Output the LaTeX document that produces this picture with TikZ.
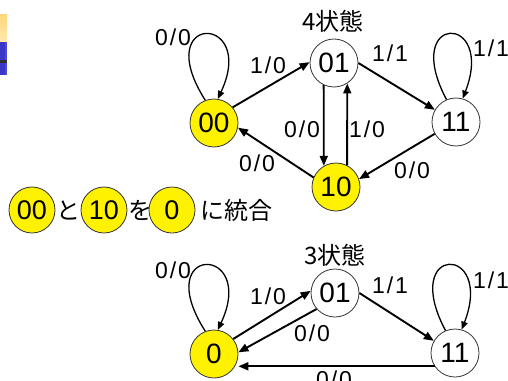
\documentclass[tikz,border=0pt]{standalone}
\usepackage{fontspec}
\setmainfont{Liberation Sans}
\newfontfamily\cjk{Noto Sans CJK JP}
\usetikzlibrary{arrows.meta}
\definecolor{imgtop}{HTML}{FFD67A}
\definecolor{imgbot}{HTML}{FFE9B0}
\definecolor{imgblue}{HTML}{3B35C8}
\definecolor{imgblue2}{HTML}{4C4AD2}
\definecolor{imgdark}{HTML}{303030}
\newcommand\slab[2]{#1\kern2pt/\kern2pt#2}
\begin{document}
\begin{tikzpicture}[x=1pt,y=-1pt,
  st/.style={circle,draw=black!80,line width=0.8pt,minimum size=48pt,inner sep=0pt,font=\fontsize{28}{28}\selectfont},
  yst/.style={st,fill=yellow},
  mst/.style={circle,draw=black!80,line width=0.8pt,fill=yellow,minimum size=46pt,inner sep=0pt,font=\fontsize{27}{27}\selectfont},
  arr/.style={line width=1.9pt,-{Triangle[length=10pt,width=8pt]}},
  lp/.style={line width=1.3pt,-{Triangle[length=8pt,width=6.5pt]}},
  lbl/.style={font=\fontsize{23}{23}\selectfont,inner sep=0pt},
  ttl/.style={font=\cjk\fontsize{24}{24}\selectfont,inner sep=0pt},
  jt/.style={font=\cjk\fontsize{24}{24}\selectfont,inner sep=0pt}
]
\useasboundingbox (0,0) rectangle (508,380);
% partial picture at top left
\shade[top color=imgtop,bottom color=imgbot] (0,14) rectangle (7,42);
\fill[imgblue] (0,42) rectangle (7,75);
\fill[imgblue2] (5,42) rectangle (7,75);
\fill[imgdark] (0,60) rectangle (7,63);

% ---- 4 states ----
\node[ttl] (t4) at (333,21) {4状態};
\node[yst] (a00) at (214,123) {00};
\node[st]  (a01) at (334,63) {01};
\node[st]  (a11) at (456,122) {11};
\node[yst] (a10) at (336,187) {10};

\draw[lp] (a00.111) .. controls +(-56,-88) and +(40,-86) .. (a00.81);
\draw[lp] (a11.113) .. controls +(-46,-87) and +(33,-86) .. (a11.74);
\draw[arr] (a00.40) -- (a01.178);
\draw[arr] (a01.0) -- (a11.150);
\draw[arr] (a01.245) -- (a10.120);
\draw[arr] (a10.63) -- (a01.303);
\draw[arr] (a11.209) -- (a10.19);
\draw[arr] (a10.157) -- (a00.-11);

\node[lbl] (l1) at (173,37) {\slab00};
\node[lbl] (l2) at (268,65) {\slab10};
\node[lbl] (l3) at (390,53) {\slab11};
\node[lbl] (l4) at (491,48) {\slab11};
\node[lbl] (l5) at (302,129) {\slab00};
\node[lbl] (l6) at (367,129) {\slab10};
\node[lbl] (l7) at (412,170) {\slab00};
\node[lbl] (l8) at (257,163) {\slab00};

% ---- merge line ----
\node[mst] (m00) at (32,210) {00};
\node[jt]  (mto) at (68,210) {と};
\node[mst] (m10) at (104,210) {10};
\node[jt]  (mwo) at (140,210) {を};
\node[mst] (m0)  at (172,210) {0};
\node[jt]  (mni) at (236,210) {に統合};

% ---- 3 states ----
\node[ttl] (t3) at (335,255) {3状態};
\node[yst] (b0)  at (214,354) {0};
\node[st]  (b01) at (335,293) {01};
\node[st]  (b11) at (455,353) {11};

\draw[lp] (b0.111) .. controls +(-56,-88) and +(40,-86) .. (b0.81);
\draw[lp] (b11.113) .. controls +(-46,-87) and +(33,-86) .. (b11.74);
\draw[arr] (b0.38) -- (b01.175);
\draw[arr] (b01.221) -- (b0.4);
\draw[arr] (b01.0) -- (b11.150);
\draw[arr] (b11.213) -- (b11.213 -| b0.east);

\node[lbl] (k1) at (173,270) {\slab00};
\node[lbl] (k2) at (268,296) {\slab10};
\node[lbl] (k3) at (312,333) {\slab00};
\node[lbl] (k4) at (390,285) {\slab11};
\node[lbl] (k5) at (491,280) {\slab11};
\node[lbl] (k6) at (334,379) {\slab00};
\end{tikzpicture}
\end{document}
